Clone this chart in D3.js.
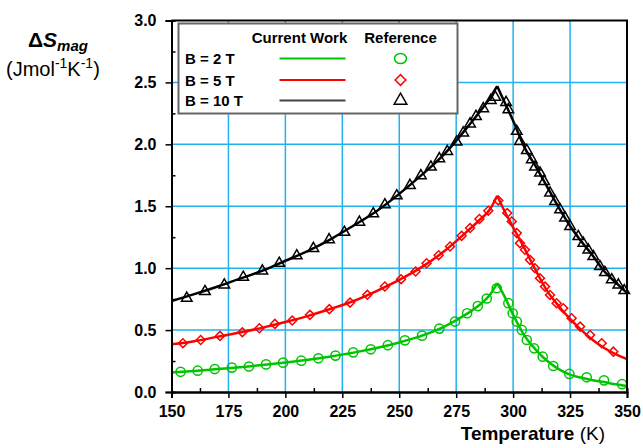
<!DOCTYPE html>
<html>
<head>
<meta charset="utf-8">
<script src="https://cdn.jsdelivr.net/npm/d3@7"></script>
<style>
  body { margin: 0; background: #fff; }
  svg { display: block; font-family: Arial, "Liberation Sans", sans-serif; }
</style>
</head>
<body>
<svg id="chart" width="643" height="448"></svg>
<script>
const curveT = [150, 160, 170, 180, 190, 200, 210, 220, 230, 240, 250, 260, 270, 280, 285, 290, 293,
  296, 300, 305, 310, 315, 320, 325, 330, 335, 340, 345, 350];
const curve2T = [0.158, 0.17, 0.185, 0.2, 0.218, 0.238, 0.26, 0.287, 0.318, 0.355, 0.40, 0.455, 0.53, 0.635, 0.70, 0.79, 0.88,
  0.78, 0.625, 0.455, 0.34, 0.25, 0.185, 0.14, 0.115, 0.095, 0.08, 0.062, 0.048];
const curve5T = [0.385, 0.41, 0.445, 0.48, 0.52, 0.565, 0.615, 0.672, 0.735, 0.815, 0.905, 1.01, 1.14, 1.30, 1.385, 1.48, 1.585,
  1.47, 1.33, 1.16, 0.98, 0.815, 0.695, 0.59, 0.50, 0.42, 0.355, 0.305, 0.265];
const curve10T = [0.735, 0.79, 0.85, 0.915, 0.98, 1.06, 1.14, 1.235, 1.345, 1.46, 1.60, 1.755, 1.925, 2.14, 2.255, 2.38, 2.47,
  2.35, 2.19, 1.975, 1.82, 1.655, 1.49, 1.34, 1.215, 1.1, 0.975, 0.885, 0.80];

// "Reference" points [T, dS]
const ref2T = [[154, 0.163], [161.5, 0.172], [169, 0.185], [176.5, 0.197], [184, 0.206], [191.5, 0.223], [199, 0.237],
  [207, 0.253], [214.5, 0.272], [222, 0.294], [229.8, 0.32], [237.5, 0.345], [245, 0.378], [252.5, 0.417], [260, 0.455],
  [267.6, 0.512], [274.5, 0.569], [279.8, 0.636], [284.5, 0.694], [288.4, 0.755], [292.8, 0.838], [297.9, 0.717],
  [299.8, 0.636], [301.6, 0.569], [303.8, 0.501], [306, 0.42], [309.2, 0.353], [313, 0.285], [317.6, 0.21],
  [324.7, 0.146], [332.3, 0.119], [339.9, 0.094], [347.8, 0.063]];
const ref5T = [[155, 0.394], [162.8, 0.42], [171.3, 0.453], [181.1, 0.483], [188.6, 0.515], [195.4, 0.55], [203, 0.577],
  [210.8, 0.623], [219.3, 0.669], [228.4, 0.722], [236, 0.785], [243.7, 0.852], [250.8, 0.911], [257.2, 0.973],
  [262, 1.04], [267.3, 1.105], [272.3, 1.175], [277.4, 1.261], [281.1, 1.324], [285.2, 1.397], [289.1, 1.464],
  [293.5, 1.547], [297.4, 1.445], [299.4, 1.377], [301.6, 1.283], [303, 1.202], [305.2, 1.148], [307.4, 1.067],
  [309.6, 1.0], [311.8, 0.919], [314, 0.851], [316.2, 0.784], [319.1, 0.717], [322, 0.677], [325.7, 0.596],
  [329.4, 0.528], [333.8, 0.461], [338.9, 0.394], [344, 0.326]];
const ref10T = [[156.7, 0.758], [164.7, 0.811], [173.2, 0.865], [181.5, 0.927], [189.9, 0.978], [197.3, 1.04], [205, 1.10],
  [212.3, 1.16], [219.2, 1.23], [225.9, 1.29], [232.5, 1.372], [238.6, 1.44], [243.7, 1.512], [248.9, 1.585],
  [254.7, 1.668], [259.5, 1.747], [263.9, 1.817], [267.6, 1.884], [271.1, 1.943], [275.2, 2.019], [278.1, 2.092],
  [281.1, 2.165], [283.7, 2.226], [286.9, 2.288], [290.2, 2.355], [292.2, 2.38], [296.9, 2.339], [297.9, 2.28],
  [301.6, 2.105], [303, 2.024], [306, 1.951], [308.2, 1.876], [309.6, 1.817], [311.8, 1.768], [313.6, 1.70],
  [316.2, 1.607], [318.4, 1.539], [320.6, 1.472], [322.8, 1.405], [325, 1.337], [328.6, 1.256], [330.8, 1.202],
  [333, 1.148], [335.2, 1.094], [338.1, 1.013], [340.3, 0.965], [343.3, 0.906], [346.2, 0.865], [348.8, 0.819]];

const legendLabels = ['B = 2 T', 'B = 5 T', 'B = 10 T'];
const xTicks = [150, 175, 200, 225, 250, 275, 300, 325, 350];
const yTicks = [0, 0.5, 1, 1.5, 2, 2.5, 3];

const series = [
  { label: legendLabels[0], curve: curve2T, ref: ref2T, color: '#00c400', legendLine: '#00c400', symbol: 'circle' },
  { label: legendLabels[1], curve: curve5T, ref: ref5T, color: '#ff0000', legendLine: '#ff0000', symbol: 'diamond' },
  { label: legendLabels[2], curve: curve10T, ref: ref10T, color: '#000000', legendLine: '#444444', symbol: 'triangle' },
];

const margin = { top: 20.5, right: 16, bottom: 56, left: 171.5 };
const width = 643 - margin.left - margin.right;
const height = 448 - margin.top - margin.bottom;
const gridColor = '#22b2ee';

const svg = d3.select('#chart');
const chart = svg.append('g').attr('transform', `translate(${margin.left}, ${margin.top})`);

const x = d3.scaleLinear().domain([150, 350]).range([0, width]);
const y = d3.scaleLinear().domain([0, 3]).range([height, 0]);

// grid lines
chart.append('g')
  .selectAll('line')
  .data(xTicks.slice(1, -1))
  .join('line')
  .attr('x1', (d) => x(d)).attr('x2', (d) => x(d))
  .attr('y1', 0).attr('y2', height)
  .attr('stroke', gridColor).attr('stroke-width', 1.5);

chart.append('g')
  .selectAll('line')
  .data(yTicks.slice(1, -1))
  .join('line')
  .attr('x1', 0).attr('x2', width)
  .attr('y1', (d) => y(d)).attr('y2', (d) => y(d))
  .attr('stroke', gridColor).attr('stroke-width', 1.5);

// symbol helper, drawn at origin
function drawSymbol(sel, kind, scale, color) {
  if (kind === 'circle') {
    sel.append('ellipse').attr('rx', 4.6 * scale.rx).attr('ry', 4.6 * scale.ry)
      .attr('fill', 'none').attr('stroke', color).attr('stroke-width', 1.5);
  } else if (kind === 'diamond') {
    sel.append('path').attr('d', d3.symbol(d3.symbolSquare, 40 * scale.rx * scale.rx)())
      .attr('transform', 'rotate(45)')
      .attr('fill', 'none').attr('stroke', color).attr('stroke-width', 1.5);
  } else {
    sel.append('path').attr('d', d3.symbol(d3.symbolTriangle, 48 * scale.rx * scale.rx)())
      .attr('fill', 'none').attr('stroke', color).attr('stroke-width', 1.5);
  }
}

// curves: split at the peak so the cusp stays sharp
const line = d3.line()
  .x((d) => x(d[0]))
  .y((d) => y(d[1]))
  .curve(d3.curveMonotoneX);

series.forEach((s) => {
  const pts = curveT.map((t, i) => [t, s.curve[i]]);
  const peak = d3.maxIndex(s.curve);
  [pts.slice(0, peak + 1), pts.slice(peak)].forEach((part) => {
    chart.append('path')
      .datum(part)
      .attr('d', line)
      .attr('fill', 'none')
      .attr('stroke', s.color)
      .attr('stroke-width', 2.5);
  });
});

series.forEach((s) => {
  chart.append('g')
    .selectAll('g')
    .data(s.ref)
    .join('g')
    .attr('transform', (d) => `translate(${x(d[0])}, ${y(d[1])})`)
    .each(function () {
      drawSymbol(d3.select(this), s.symbol, { rx: 1, ry: 1 }, s.color);
    });
});

// legend
const legend = svg.append('g').attr('transform', 'translate(178.5, 23.5)');
legend.append('rect')
  .attr('width', 279).attr('height', 90)
  .attr('fill', '#fff').attr('stroke', '#666').attr('stroke-width', 2);
legend.append('text').attr('x', 121).attr('y', 19.5).attr('text-anchor', 'middle')
  .attr('font-size', 15).attr('font-weight', 'bold').text('Current Work');
legend.append('text').attr('x', 222).attr('y', 19.5).attr('text-anchor', 'middle')
  .attr('font-size', 15).attr('font-weight', 'bold').text('Reference');

const rowY = [35, 56.5, 77];
series.forEach((s, i) => {
  const row = legend.append('g').attr('transform', `translate(0, ${rowY[i]})`);
  row.append('text').attr('x', 6.5).attr('y', 5.5)
    .attr('font-size', 15).attr('font-weight', 'bold').text(s.label);
  row.append('line').attr('x1', 101).attr('x2', 167).attr('y1', 0).attr('y2', 0)
    .attr('stroke', s.legendLine).attr('stroke-width', 2);
  const mark = row.append('g').attr('transform', 'translate(222, 0)');
  drawSymbol(mark, s.symbol, s.symbol === 'circle' ? { rx: 1.3, ry: 1.1 } : { rx: 1.2, ry: 1.2 }, s.color);
});

// axes
const xAxis = chart.append('g').attr('transform', `translate(0, ${height})`)
  .call(d3.axisBottom(x).tickValues(xTicks).tickSize(6).tickPadding(8).tickFormat(d3.format('d')));
const xMinor = chart.append('g').attr('transform', `translate(0, ${height})`)
  .call(d3.axisBottom(x).tickValues(d3.range(162.5, 350, 25)).tickSize(-4).tickFormat(''));
const yAxis = chart.append('g')
  .call(d3.axisLeft(y).tickValues(yTicks).tickSize(6).tickPadding(9).tickFormat(d3.format('.1f')));
const yMinor = chart.append('g')
  .call(d3.axisLeft(y).tickValues(d3.range(0.25, 3, 0.5)).tickSize(-4).tickFormat(''));

[xAxis, xMinor, yAxis, yMinor].forEach((a) => {
  a.select('.domain').attr('stroke', '#000').attr('stroke-width', 2);
  a.selectAll('.tick line').attr('stroke', '#000').attr('stroke-width', 1.5);
  a.selectAll('.tick text').attr('font-size', 16).attr('font-weight', 'bold')
    .attr('fill', '#000').attr('font-family', 'Arial, "Liberation Sans", sans-serif');
});
xAxis.selectAll('.tick text').attr('dy', '0.71em');

// top and right frame
chart.append('path')
  .attr('d', `M0,0H${width}V${height}`)
  .attr('fill', 'none').attr('stroke', '#000').attr('stroke-width', 2);

// axis titles
const yTitle = svg.append('text').attr('x', 28).attr('y', 47)
  .attr('font-size', 21).attr('font-weight', 'bold');
yTitle.append('tspan').text('\u0394');
yTitle.append('tspan').attr('font-style', 'italic').text('S');
yTitle.append('tspan').attr('font-style', 'italic').attr('font-size', 15).attr('dy', 4).text('mag');

const unit = svg.append('text').attr('x', 6).attr('y', 76).attr('font-size', 20);
unit.append('tspan').text('(Jmol');
unit.append('tspan').attr('font-size', 14).attr('dy', -8).text('-1');
unit.append('tspan').attr('dy', 8).text('K');
unit.append('tspan').attr('font-size', 14).attr('dy', -8).text('-1');
unit.append('tspan').attr('dy', 8).text(')');

const xTitle = svg.append('text').attr('x', 605).attr('y', 440)
  .attr('text-anchor', 'end').attr('font-size', 19);
xTitle.append('tspan').attr('font-weight', 'bold').text('Temperature');
xTitle.append('tspan').text(' (K)');
</script>
</body>
</html>
